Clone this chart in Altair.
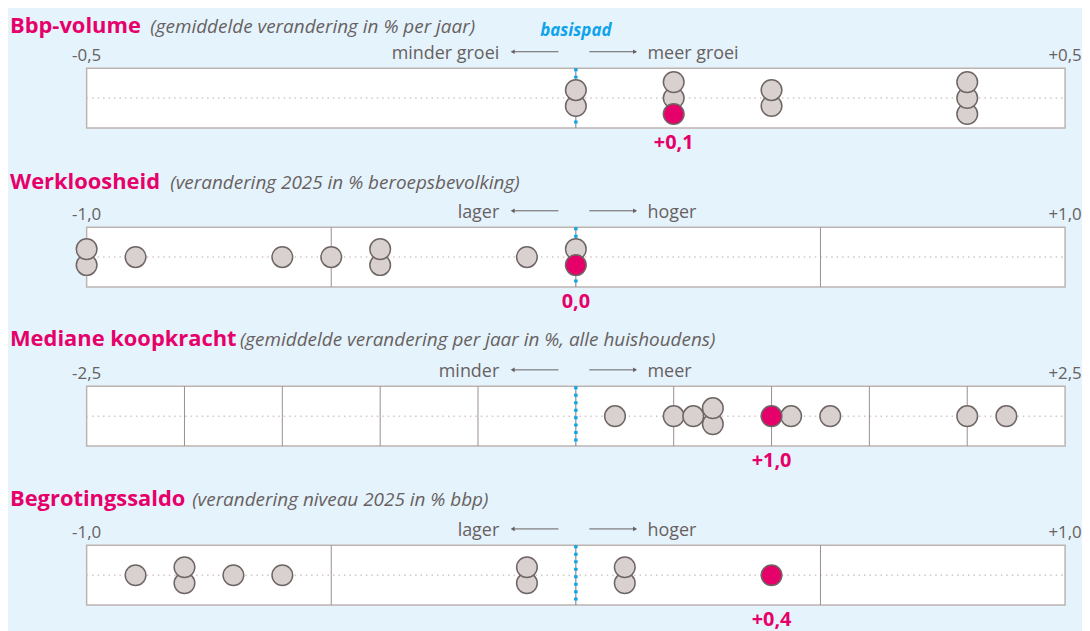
import altair as alt
import pandas as pd

# ---------------- data ----------------
titles = ["Bbp-volume", "Werkloosheid", "Mediane koopkracht", "Begrotingssaldo"]
subtitles = [
    "(gemiddelde verandering in % per jaar)",
    "(verandering 2025 in % beroepsbevolking)",
    "(gemiddelde verandering per jaar in %, alle huishoudens)",
    "(verandering niveau 2025 in % bbp)",
]
domain_min = [-0.5, -1.0, -2.5, -1.0]
domain_max = [0.5, 1.0, 2.5, 1.0]
min_labels = ["-0,5", "-1,0", "-2,5", "-1,0"]
max_labels = ["+0,5", "+1,0", "+2,5", "+1,0"]
left_words = ["minder groei", "lager", "minder", "lager"]
right_words = ["meer groei", "hoger", "meer", "hoger"]

grid_bbp = []
grid_werkloosheid = [-0.5, 0.5]
grid_koopkracht = [-2.0, -1.5, -1.0, -0.5, 0.5, 1.0, 1.5, 2.0]
grid_begroting = [-0.5, 0.5]

others_bbp = [0.0, 0.0, 0.1, 0.1, 0.2, 0.2, 0.4, 0.4, 0.4]
others_werkloosheid = [-1.0, -1.0, -0.9, -0.6, -0.5, -0.4, -0.4, -0.1, 0.0]
others_koopkracht = [0.2, 0.5, 0.6, 0.7, 0.7, 1.1, 1.3, 2.0, 2.2]
others_begroting = [-0.9, -0.8, -0.8, -0.7, -0.6, -0.1, -0.1, 0.1, 0.1]

highlight_values = [0.1, 0.0, 1.0, 0.4]
highlight_labels = ["+0,1", "0,0", "+1,0", "+0,4"]
baseline_label = "basispad"

grids = [grid_bbp, grid_werkloosheid, grid_koopkracht, grid_begroting]
others = [others_bbp, others_werkloosheid, others_koopkracht, others_begroting]

# ---------------- style ----------------
FONT = "Open Sans"
BG = "#E5F3FD"
PINK = "#E6006A"
TXT = "#676160"
BLUE = "#0FA3EC"
GRAYF = "#D9D1CF"
EDGE = "#6E6664"
BOX = "#BDB4B2"
GRID = "#998F8D"
DOT = "#D3C6C6"

W = 983          # box width
H = 60           # box height
C = W / 2
SLOT = 16        # vertical stacking distance in px
BOX_X = 87       # page x of the box (for offsets of title texts)
title_y = [-35, -38.8, -40.5, -39.2]
sub_x = [151, 171, 241, 193]


def stacked(vals, hv):
    rows = [{"v": v, "kind": "other"} for v in vals] + [{"v": hv, "kind": "hl"}]
    df = pd.DataFrame(rows)
    df["i"] = df.groupby("v").cumcount()
    df["n"] = df.groupby("v")["v"].transform("count")
    df["slot"] = (df["n"] - 1) / 2 - df["i"]
    return df.sort_values(["slot", "v"]).reset_index(drop=True)


def panel(k):
    lo, hi = domain_min[k], domain_max[k]
    xs = alt.Scale(domain=[lo, hi], nice=False, zero=False)
    ys = alt.Scale(domain=[-H / 2 / SLOT, H / 2 / SLOT], nice=False, zero=False)

    def X(f):
        return alt.X(f, type="quantitative", scale=xs, axis=None)

    box_df = pd.DataFrame({"lo": [lo], "hi": [hi]})
    layers = []
    layers.append(
        alt.Chart(box_df).mark_rect(fill="white", stroke=BOX, strokeWidth=1.5).encode(
            x=X("lo"), x2="hi", y=alt.value(0), y2=alt.value(H)))
    layers.append(
        alt.Chart(box_df).mark_rule(color=DOT, strokeWidth=1.5, strokeDash=[1.5, 4]).encode(
            x=X("lo"), x2="hi", y=alt.value(H / 2)))
    if grids[k]:
        layers.append(
            alt.Chart(pd.DataFrame({"g": grids[k]})).mark_rule(color=GRID, strokeWidth=1).encode(
                x=X("g"), y=alt.value(0), y2=alt.value(H)))
    zero_df = pd.DataFrame({"z": [0.0], "t": [baseline_label]})
    layers.append(
        alt.Chart(zero_df).mark_rule(color="#6F7C86", strokeWidth=1).encode(
            x=X("z"), y=alt.value(0), y2=alt.value(H)))
    layers.append(
        alt.Chart(zero_df).mark_rule(color=BLUE, strokeWidth=3.5, strokeDash=[3, 4.5]).encode(
            x=X("z"), y=alt.value(0), y2=alt.value(H)))

    pts = stacked(others[k], highlight_values[k])
    layers.append(
        alt.Chart(pts[pts["kind"] == "other"]).mark_circle(
            size=430, fill=GRAYF, stroke=EDGE, strokeWidth=1.5, opacity=1, fillOpacity=1).encode(
            x=X("v"), y=alt.Y("slot:Q", scale=ys, axis=None)))
    layers.append(
        alt.Chart(pts[pts["kind"] == "hl"]).mark_circle(
            size=430, fill=PINK, stroke=EDGE, strokeWidth=1.5, opacity=1, fillOpacity=1).encode(
            x=X("v"), y=alt.Y("slot:Q", scale=ys, axis=None)))

    hl_df = pd.DataFrame({"v": [highlight_values[k]], "t": [highlight_labels[k]]})
    layers.append(
        alt.Chart(hl_df).mark_text(font=FONT, fontSize=20, fontWeight="bold", color=PINK,
                                   baseline="alphabetic").encode(
            x=X("v"), y=alt.value(H + 21), text="t:N"))

    tick_df = pd.DataFrame({"v": [lo, hi], "t": [min_labels[k], max_labels[k]]})
    layers.append(
        alt.Chart(tick_df).mark_text(font=FONT, fontSize=17, color=TXT, baseline="alphabetic").encode(
            x=X("v"), y=alt.value(-7), text="t:N"))

    words_df = pd.DataFrame({"l": [left_words[k]], "r": [right_words[k]],
                             "ti": [titles[k]], "su": [subtitles[k]]})
    layers.append(
        alt.Chart(words_df).mark_text(font=FONT, fontSize=18, color=TXT, align="right",
                                      baseline="alphabetic").encode(
            x=alt.value(C - 77), y=alt.value(-9), text="l:N"))
    layers.append(
        alt.Chart(words_df).mark_text(font=FONT, fontSize=18, color=TXT, align="left",
                                      baseline="alphabetic").encode(
            x=alt.value(C + 72), y=alt.value(-9), text="r:N"))
    layers.append(
        alt.Chart(words_df).mark_rule(color=TXT, strokeWidth=1).encode(
            x=alt.value(C - 64), x2=alt.value(C - 17.5), y=alt.value(-16.5)))
    layers.append(
        alt.Chart(words_df).mark_rule(color=TXT, strokeWidth=1).encode(
            x=alt.value(C + 13.5), x2=alt.value(C + 60), y=alt.value(-16.5)))
    layers.append(
        alt.Chart(words_df).mark_point(shape="triangle-left", filled=True, size=22, color=TXT,
                                       opacity=1).encode(
            x=alt.value(C - 63.5), y=alt.value(-16.5)))
    layers.append(
        alt.Chart(words_df).mark_point(shape="triangle-right", filled=True, size=22, color=TXT,
                                       opacity=1).encode(
            x=alt.value(C + 59.5), y=alt.value(-16.5)))

    layers.append(
        alt.Chart(words_df).mark_text(font=FONT, fontSize=22, fontWeight="bold", color=PINK,
                                      align="left", baseline="alphabetic").encode(
            x=alt.value(10 - BOX_X), y=alt.value(title_y[k]), text="ti:N"))
    layers.append(
        alt.Chart(words_df).mark_text(font=FONT, fontSize=19, fontStyle="italic", color=TXT,
                                      align="left", baseline="alphabetic").encode(
            x=alt.value(sub_x[k] - BOX_X), y=alt.value(title_y[k]), text="su:N"))

    if k == 0:
        layers.append(
            alt.Chart(zero_df).mark_text(font=FONT, fontSize=17, fontWeight="bold",
                                         fontStyle="italic", color=BLUE,
                                         baseline="alphabetic").encode(
                x=X("z"), y=alt.value(-32), text="t:N"))

    return alt.layer(*layers).properties(width=W, height=H)


chart = alt.vconcat(*[panel(k) for k in range(4)], spacing=99.8, bounds="flush").properties(
    background=BG,
    padding={"left": 2, "top": 6, "right": 0, "bottom": 0},
).configure_view(strokeWidth=0)

chart.save("out.html", embed_options={"renderer": "svg", "actions": False})
